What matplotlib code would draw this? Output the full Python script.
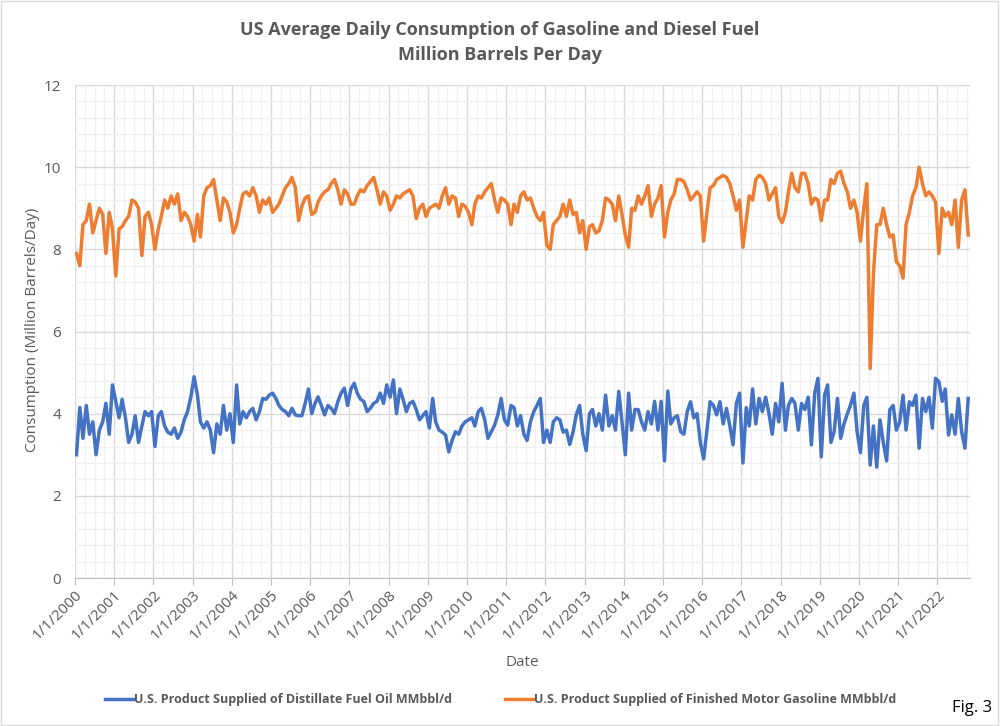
import numpy as np
import pandas as pd
import matplotlib
matplotlib.use("Agg")
import matplotlib.pyplot as plt
import matplotlib.dates as mdates
from matplotlib.ticker import MultipleLocator, FuncFormatter
from matplotlib.patches import Rectangle

plt.rcParams['font.family'] = ['Open Sans', 'DejaVu Sans']

# monthly readings, Jan 2000 .. Oct 2022 (million barrels per day)
gasoline = [
    7.9, 7.6, 8.6, 8.7, 9.1, 8.4, 8.7, 9.0, 8.85, 7.9, 8.9, 8.5,      # 2000
    7.35, 8.5, 8.55, 8.7, 8.8, 9.2, 9.15, 9.0, 7.85, 8.8, 8.9, 8.6,   # 2001
    8.0, 8.5, 8.8, 9.2, 9.0, 9.3, 9.1, 9.35, 8.7, 8.9, 8.8, 8.6,      # 2002
    8.2, 8.85, 8.3, 9.3, 9.5, 9.55, 9.7, 9.2, 8.7, 9.25, 9.15, 8.9,   # 2003
    8.4, 8.6, 9.0, 9.35, 9.4, 9.3, 9.5, 9.3, 8.9, 9.2, 9.1, 9.25,     # 2004
    8.9, 9.0, 9.1, 9.3, 9.5, 9.6, 9.75, 9.5, 8.7, 9.05, 9.25, 9.3,    # 2005
    8.85, 8.9, 9.15, 9.3, 9.4, 9.45, 9.6, 9.7, 9.45, 9.1, 9.45, 9.35, # 2006
    9.1, 9.1, 9.3, 9.45, 9.4, 9.55, 9.65, 9.75, 9.45, 9.1, 9.4, 9.3,  # 2007
    8.95, 9.1, 9.3, 9.25, 9.35, 9.4, 9.45, 9.3, 8.75, 9.0, 9.1, 8.8,  # 2008
    9.0, 9.05, 9.1, 9.0, 9.3, 9.5, 9.1, 9.3, 9.25, 8.8, 9.1, 9.05,    # 2009
    8.9, 8.6, 9.1, 9.3, 9.25, 9.4, 9.5, 9.6, 9.2, 8.9, 9.25, 9.2,     # 2010
    9.1, 8.6, 9.1, 8.9, 9.3, 9.4, 9.2, 9.25, 9.0, 8.8, 8.7, 8.9,      # 2011
    8.1, 8.0, 8.6, 8.7, 8.8, 9.1, 8.8, 9.2, 8.85, 8.9, 8.4, 8.7,      # 2012
    8.0, 8.55, 8.6, 8.4, 8.45, 8.7, 9.25, 9.2, 9.1, 8.7, 9.3, 8.85,   # 2013
    8.35, 8.05, 9.0, 8.95, 9.3, 9.1, 9.3, 9.55, 8.8, 9.1, 9.25, 9.55, # 2014
    8.3, 8.9, 9.2, 9.35, 9.7, 9.7, 9.65, 9.45, 9.2, 9.3, 9.4, 9.3,    # 2015
    8.2, 8.9, 9.5, 9.55, 9.7, 9.75, 9.8, 9.75, 9.6, 9.3, 8.95, 9.2,   # 2016
    8.05, 8.7, 9.3, 9.2, 9.7, 9.8, 9.75, 9.6, 9.2, 9.35, 9.5, 8.8,    # 2017
    8.65, 8.9, 9.4, 9.85, 9.5, 9.4, 9.85, 9.85, 9.6, 9.1, 9.25, 9.2,  # 2018
    8.7, 9.2, 9.2, 9.7, 9.6, 9.85, 9.9, 9.6, 9.4, 9.0, 9.2, 8.9,      # 2019
    8.2, 9.0, 9.6, 5.1, 7.4, 8.6, 8.6, 9.0, 8.6, 8.3, 8.35, 7.7,      # 2020
    7.6, 7.3, 8.6, 8.9, 9.3, 9.5, 10.0, 9.6, 9.3, 9.4, 9.3, 9.15,     # 2021
    7.9, 9.0, 8.8, 8.9, 8.6, 9.2, 8.05, 9.2, 9.45, 8.35,              # 2022
]

distillate = [
    3.0, 4.15, 3.4, 4.2, 3.5, 3.8, 3.0, 3.6, 3.8, 4.25, 3.5, 4.7,       # 2000
    4.3, 3.9, 4.35, 3.9, 3.3, 3.5, 3.95, 3.3, 3.7, 4.05, 3.95, 4.05,    # 2001
    3.2, 3.95, 4.05, 3.7, 3.55, 3.5, 3.65, 3.4, 3.55, 3.85, 4.05, 4.4,  # 2002
    4.9, 4.45, 3.8, 3.65, 3.8, 3.6, 3.05, 3.75, 3.5, 4.2, 3.6, 4.0,     # 2003
    3.3, 4.7, 3.75, 4.05, 3.9, 4.05, 4.13, 3.85, 4.05, 4.37, 4.35, 4.45,# 2004
    4.5, 4.37, 4.2, 4.1, 4.05, 3.95, 4.13, 3.97, 3.95, 3.95, 4.25, 4.6, # 2005
    4.0, 4.25, 4.41, 4.2, 3.97, 4.2, 4.13, 4.0, 4.29, 4.5, 4.62, 4.2,   # 2006
    4.6, 4.74, 4.5, 4.35, 4.3, 4.05, 4.13, 4.25, 4.3, 4.5, 4.25, 4.7,   # 2007
    4.4, 4.82, 4.0, 4.6, 4.35, 4.05, 4.25, 4.3, 4.1, 3.85, 3.95, 4.05,  # 2008
    3.65, 4.37, 3.8, 3.6, 3.55, 3.48, 3.07, 3.35, 3.56, 3.5, 3.7, 3.8,  # 2009
    3.85, 3.9, 3.7, 4.05, 4.13, 3.85, 3.4, 3.56, 3.72, 3.97, 4.37, 3.85,# 2010
    3.72, 4.2, 4.15, 3.7, 3.95, 3.5, 3.35, 3.8, 4.05, 4.2, 4.37, 3.3,   # 2011
    3.6, 3.3, 3.8, 3.9, 3.85, 3.55, 3.6, 3.25, 3.55, 3.97, 4.2, 3.5,    # 2012
    3.1, 4.0, 4.1, 3.7, 4.0, 3.6, 4.45, 3.7, 3.95, 3.6, 4.54, 3.8,      # 2013
    3.0, 4.5, 3.6, 4.1, 4.1, 3.8, 3.6, 4.05, 3.75, 4.3, 3.6, 4.3,       # 2014
    2.85, 4.55, 3.75, 3.9, 3.95, 3.56, 3.5, 4.05, 4.29, 3.9, 4.0, 3.3,  # 2015
    2.9, 3.6, 4.29, 4.2, 3.97, 4.29, 3.75, 4.13, 3.7, 3.24, 4.25, 4.5,  # 2016
    2.8, 4.15, 3.7, 4.6, 3.75, 4.37, 4.05, 4.4, 4.0, 3.5, 4.25, 3.8,    # 2017
    4.74, 3.6, 4.2, 4.37, 4.25, 3.6, 4.25, 4.1, 4.4, 3.24, 4.5, 4.86,   # 2018
    2.95, 4.45, 4.7, 3.3, 3.56, 4.37, 3.4, 3.75, 4.0, 4.21, 4.5, 3.56,  # 2019
    3.05, 4.2, 4.4, 2.75, 3.7, 2.7, 3.85, 3.3, 2.85, 4.1, 4.2, 3.6,     # 2020
    3.8, 4.45, 3.6, 4.29, 4.2, 4.45, 3.16, 4.37, 4.05, 4.4, 3.65, 4.86, # 2021
    4.78, 4.3, 4.6, 3.48, 3.97, 3.5, 4.37, 3.56, 3.16, 4.37,            # 2022
]

dates = pd.date_range('2000-01-01', periods=len(gasoline), freq='MS') + pd.Timedelta(days=14)

title_lines = ['US Average Daily Consumption of Gasoline and Diesel Fuel', 'Million Barrels Per Day']
label_distillate = 'U.S. Product Supplied of Distillate Fuel Oil MMbbl/d'
label_gasoline = 'U.S. Product Supplied of Finished Motor Gasoline MMbbl/d'

text_gray = '#595959'
blue = '#4472C4'
orange = '#ED7D31'

fig = plt.figure(figsize=(10, 7.26), dpi=100)
ax = fig.add_axes([0.075, 1 - 578 / 726, 0.895, (578 - 85) / 726])

l1, = ax.plot(dates, distillate, color=blue, lw=2.5, solid_joinstyle='round')
l2, = ax.plot(dates, gasoline, color=orange, lw=2.5, solid_joinstyle='round')

ax.set_xlim(pd.Timestamp('2000-01-01'), pd.Timestamp('2022-11-01'))
ax.set_ylim(0, 12)

ax.yaxis.set_major_locator(MultipleLocator(2))
ax.yaxis.set_minor_locator(MultipleLocator(0.4))
ax.xaxis.set_major_locator(mdates.YearLocator())
ax.xaxis.set_minor_locator(mdates.MonthLocator(bymonth=[1, 4, 7, 10]))
ax.xaxis.set_major_formatter(FuncFormatter(
    lambda v, p: '{d.month}/{d.day}/{d.year}'.format(d=mdates.num2date(v))))

ax.set_axisbelow(True)
ax.grid(which='major', color='#d9d9d9', lw=1)
ax.grid(which='minor', color='#f0f0f0', lw=1)

for s in ['left', 'top', 'right']:
    ax.spines[s].set_visible(False)
ax.spines['bottom'].set_color('#bfbfbf')

ax.tick_params(axis='y', which='both', length=0, pad=10, labelsize=11, labelcolor=text_gray)
ax.tick_params(axis='x', which='major', length=5, color='#bfbfbf', labelsize=11,
               labelcolor=text_gray, pad=2)
ax.tick_params(axis='x', which='minor', length=0)
for lab in ax.get_xticklabels():
    lab.set_rotation(45)
    lab.set_ha('right')
    lab.set_rotation_mode('anchor')

fig.text(0.5, 1 - 30 / 726, title_lines[0], ha='center', va='center',
         fontsize=13, fontweight='bold', color=text_gray)
fig.text(0.5, 1 - 55 / 726, title_lines[1], ha='center', va='center',
         fontsize=13, fontweight='bold', color=text_gray)
fig.text(33 / 1000, 1 - 330 / 726, 'Consumption (Million Barrels/Day)', rotation=90,
         ha='center', va='center', fontsize=11, color=text_gray)
fig.text(522 / 1000, 1 - 662 / 726, 'Date', ha='center', va='center',
         fontsize=11, color=text_gray)

# two legend entries placed where the reference puts them
leg_y = 1 - 700 / 726
for handle, label, x0 in [(l1, label_distillate, 105), (l2, label_gasoline, 505)]:
    leg = fig.legend([handle], [label], loc='center left', bbox_to_anchor=(x0 / 1000, leg_y),
                     frameon=False, borderaxespad=0, borderpad=0, handlelength=2.2,
                     handletextpad=0.15, prop={'size': 9, 'weight': 'bold'},
                     labelcolor=text_gray)

fig.text(952 / 1000, 1 - 708 / 726, 'Fig. 3', ha='left', va='center', fontsize=12, color='black')

fig.patches.append(Rectangle((0.001, 0.001), 0.997, 0.997, transform=fig.transFigure,
                             fill=False, edgecolor='#d9d9d9', lw=1))

fig.savefig('out.png', dpi=100)
